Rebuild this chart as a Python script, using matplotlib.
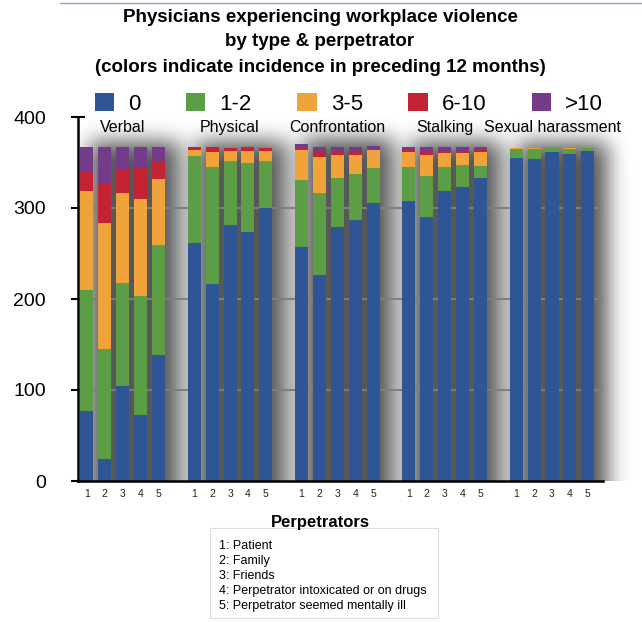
import matplotlib
matplotlib.use("Agg")
import matplotlib.pyplot as plt
from matplotlib.patches import Rectangle, Patch
from matplotlib.lines import Line2D
import numpy as np

plt.rcParams['font.family'] = ['Liberation Sans', 'DejaVu Sans']

violence_types = ["Verbal", "Physical", "Confrontation", "Stalking", "Sexual harassment"]
perpetrator_ticks = ["1", "2", "3", "4", "5"]
incidence_labels = ["0", "1-2", "3-5", "6-10", ">10"]
colors = ["#2f5596", "#5c9e45", "#f0a33a", "#c42334", "#733b8a"]

# counts per incidence category, each list = perpetrators 1..5
verbal_0 = [77, 24, 104, 72, 138]
verbal_1_2 = [133, 121, 114, 131, 121]
verbal_3_5 = [109, 139, 99, 107, 73]
verbal_6_10 = [22, 43, 25, 35, 19]
verbal_gt10 = [26, 40, 25, 22, 16]

physical_0 = [261, 217, 281, 274, 300]
physical_1_2 = [96, 128, 71, 76, 52]
physical_3_5 = [7, 17, 11, 13, 11]
physical_6_10 = [3, 5, 3, 4, 3]
physical_gt10 = [0, 0, 0, 0, 0]

confront_0 = [257, 226, 279, 287, 305]
confront_1_2 = [74, 91, 54, 50, 39]
confront_3_5 = [33, 39, 25, 21, 20]
confront_6_10 = [2, 6, 5, 5, 1]
confront_gt10 = [4, 5, 4, 4, 3]

stalking_0 = [308, 290, 319, 323, 333]
stalking_1_2 = [37, 45, 26, 24, 13]
stalking_3_5 = [16, 23, 15, 13, 15]
stalking_6_10 = [3, 4, 3, 3, 3]
stalking_gt10 = [3, 5, 4, 4, 3]

sexual_0 = [355, 354, 361, 359, 363]
sexual_1_2 = [10, 11, 5, 6, 3]
sexual_3_5 = [1, 1, 0, 1, 0]
sexual_6_10 = [0, 0, 0, 0, 0]
sexual_gt10 = [0, 0, 0, 0, 0]

data = [
    [verbal_0, verbal_1_2, verbal_3_5, verbal_6_10, verbal_gt10],
    [physical_0, physical_1_2, physical_3_5, physical_6_10, physical_gt10],
    [confront_0, confront_1_2, confront_3_5, confront_6_10, confront_gt10],
    [stalking_0, stalking_1_2, stalking_3_5, stalking_6_10, stalking_gt10],
    [sexual_0, sexual_1_2, sexual_3_5, sexual_6_10, sexual_gt10],
]

perpetrator_key = ["1: Patient", "2: Family", "3: Friends",
                   "4: Perpetrator intoxicated or on drugs",
                   "5: Perpetrator seemed mentally ill"]

fig = plt.figure(figsize=(6.42, 6.22), dpi=100)
ax = fig.add_axes([78/642, 1-481/622, (603-78)/642, (481-117)/622])

stride = 6
width = 0.73
xlim = (-0.5, 4 * stride + 4 + 0.85)
ylim = (0, 400)
px_x = (603 - 78) / (xlim[1] - xlim[0])   # px per x unit
px_y = (481 - 117) / (ylim[1] - ylim[0])  # px per y unit

# soft drop shadow behind each group (blurred mask in pixel space)
ext_x0, ext_x1 = xlim[0] - 2, xlim[1] + 4
ext_y0, ext_y1 = -80.0, 470.0
nx = int((ext_x1 - ext_x0) * px_x)
ny = int((ext_y1 - ext_y0) * px_y)
xc = np.linspace(ext_x0, ext_x1, nx)
yc = np.linspace(ext_y0, ext_y1, ny)
X, Y = np.meshgrid(xc, yc)
mask = np.zeros((ny, nx))
shift_x = 8 / px_x
grow_y = 6 / px_y

xticks = []
xticklabels = []
group_info = []
for g, segs in enumerate(data):
    xs = np.arange(5) + g * stride
    totals = np.sum(np.array(segs), axis=0)
    group_info.append((xs, totals))
    left = xs[0] - width / 2 + shift_x
    right = xs[-1] + width / 2 + shift_x + 6 / px_x
    top = totals.max() + grow_y
    mask[(X >= left) & (X <= right) & (Y <= top)] = 1.0

sigma = 10.5
r = int(3 * sigma)
k = np.exp(-0.5 * (np.arange(-r, r + 1) / sigma) ** 2)
k /= k.sum()
blur = np.apply_along_axis(lambda m: np.convolve(m, k, mode="same"), 1, mask)
blur = np.apply_along_axis(lambda m: np.convolve(m, k, mode="same"), 0, blur)
rgba = np.zeros((ny, nx, 4))
rgba[..., 3] = blur * 0.66
im = ax.imshow(rgba, extent=(ext_x0, ext_x1, ext_y0, ext_y1), origin="lower",
               aspect="auto", zorder=1, interpolation="bilinear")
clip_rect = Rectangle((xlim[0], 0), ext_x1 - xlim[0], ylim[1], transform=ax.transData,
                      facecolor="none", edgecolor="none")
im.set_clip_path(clip_rect)

for g, (name, segs) in enumerate(zip(violence_types, data)):
    xs, totals = group_info[g]
    bottom = np.zeros(5)
    for c, vals in enumerate(segs):
        ax.bar(xs, vals, width=width, bottom=bottom, color=colors[c], zorder=3, lw=0)
        bottom = bottom + np.array(vals)
    ax.text(xs[2], 388, name, ha="center", va="center", fontsize=11.5, zorder=5)
    xticks.extend(xs)
    xticklabels.extend(perpetrator_ticks)

for yv in [100, 200, 300]:
    ax.axhline(yv, color="#7f7f7f", lw=1.4, zorder=2)

ax.set_xlim(*xlim)
ax.set_ylim(*ylim)
ax.set_yticks([0, 100, 200, 300, 400])
ax.set_yticklabels(["0", "100", "200", "300", "400"], fontsize=14)
ax.set_xticks(xticks)
ax.set_xticklabels(xticklabels, fontsize=7.5, color="#222222")
ax.tick_params(axis="x", length=0, pad=6)
ax.tick_params(axis="y", direction="inout", length=10, width=1.5, pad=18)
for sp in ["top", "right"]:
    ax.spines[sp].set_visible(False)
ax.spines["left"].set_linewidth(1.8)
ax.spines["bottom"].set_linewidth(1.8)
ax.spines["left"].set_zorder(6)
ax.spines["bottom"].set_zorder(6)

# title
title_x = 320 / 642
fig.text(title_x, 1-18/622, "Physicians experiencing workplace violence", ha="center", va="center",
         fontsize=13.5, fontweight="bold")
fig.text(title_x, 1-42/622, "by type & perpetrator", ha="center", va="center",
         fontsize=13.5, fontweight="bold")
fig.text(title_x, 1-67/622, "(colors indicate incidence in preceding 12 months)", ha="center", va="center",
         fontsize=13.5, fontweight="bold")

# top thin line
fig.add_artist(Line2D([60/642, 1.0], [1-3/622, 1-3/622], color="#8fa3c8", lw=1))

# legend
handles = [Patch(facecolor=c, edgecolor="none") for c in colors]
fig.legend(handles, incidence_labels, loc="center left", bbox_to_anchor=(95/642, 1-104/622), ncol=5,
           frameon=False, fontsize=16, handlelength=0.86, handleheight=0.86,
           columnspacing=2.05, handletextpad=0.64, borderpad=0, borderaxespad=0)

# perpetrator key
fig.text(320/642, 1-523/622, "Perpetrators", ha="center", va="center", fontsize=12, fontweight="bold")
box = Rectangle((210/642, 1-618/622), 228/642, 90/622, transform=fig.transFigure,
                facecolor="white", edgecolor="#dddddd", lw=0.8)
fig.add_artist(box)
for i, line in enumerate(perpetrator_key):
    fig.text(219/642, 1-(546 + i*15)/622, line, ha="left", va="center", fontsize=9)

fig.savefig("out.png", dpi=100)
